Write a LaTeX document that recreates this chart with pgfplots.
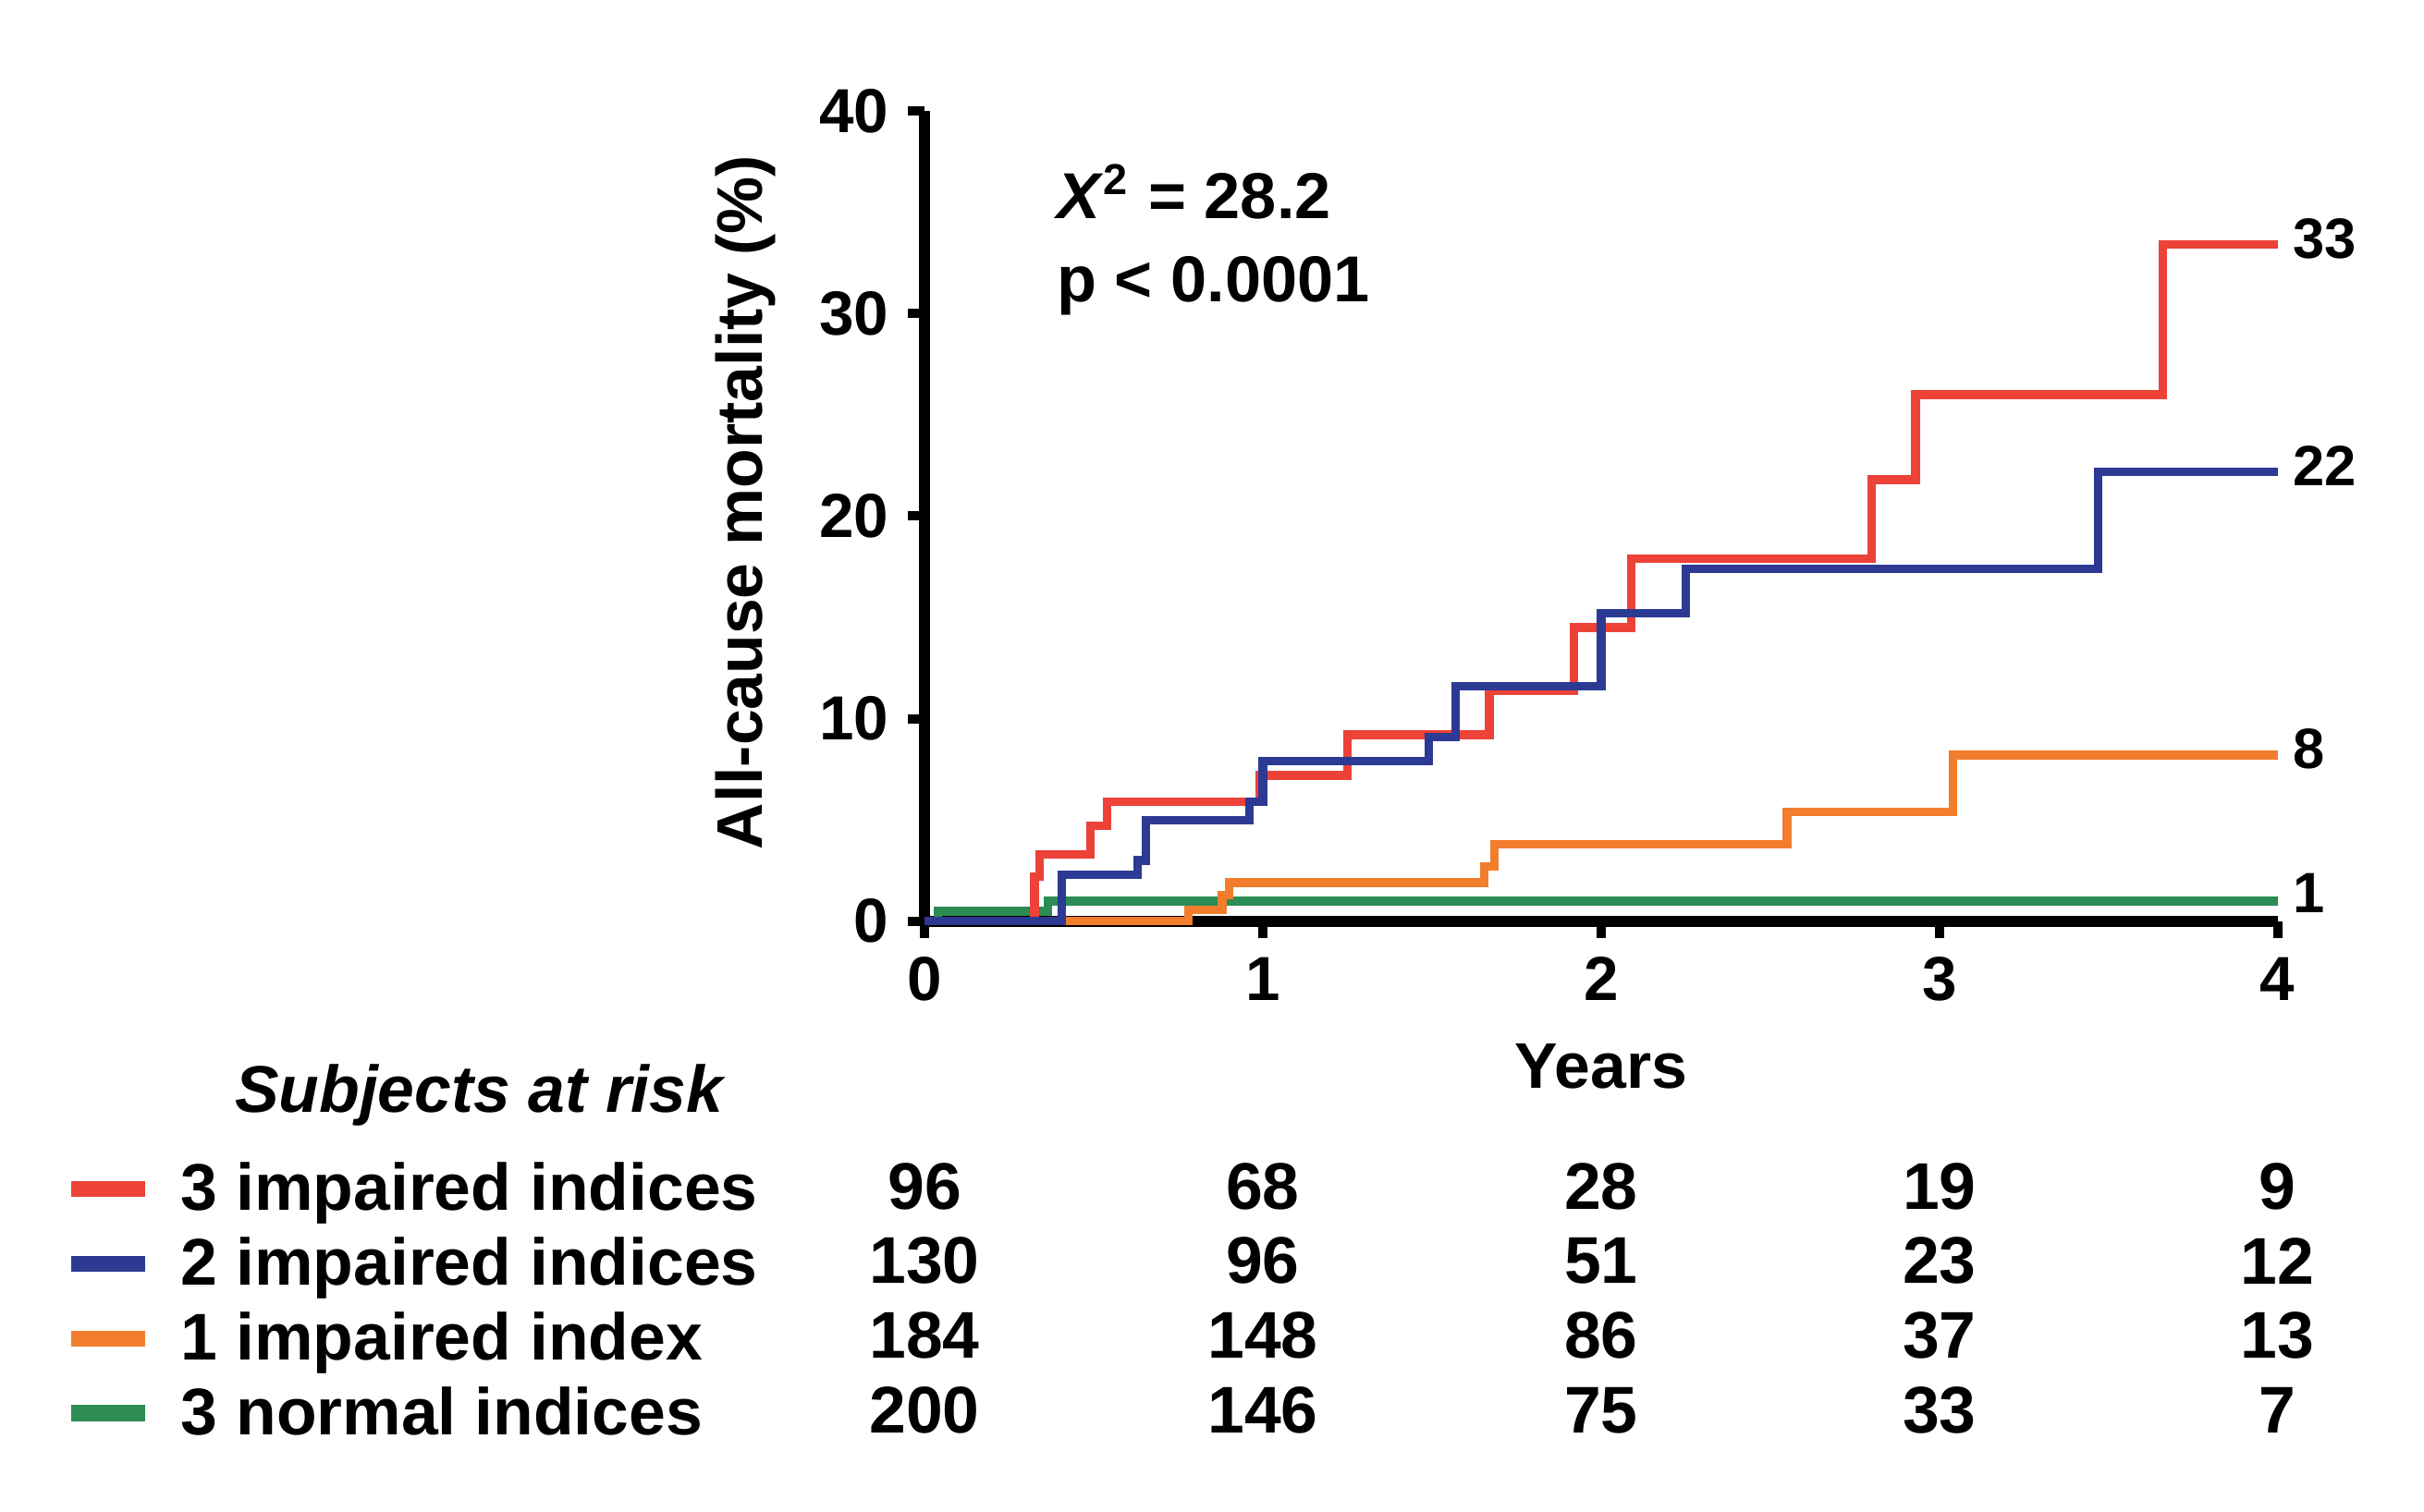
\documentclass[border=0pt]{standalone}
\usepackage{fontspec}
\setmainfont{Liberation Sans}
\usepackage{pgfplots}
\pgfplotsset{compat=1.18}
\usepackage{pgfplotstable}

\definecolor{kmred}{RGB}{236,66,56}
\definecolor{kmblue}{RGB}{44,58,148}
\definecolor{kmorange}{RGB}{242,125,44}
\definecolor{kmgreen}{RGB}{44,140,84}

% subjects at risk, one column per group
\pgfplotstableread{
t  n3  n2  n1  n0
0  96  130 184 200
1  68  96  148 146
2  28  51  86  75
3  19  23  37  33
4  9   12  13  7
}\atrisk

\begin{document}
\begin{tikzpicture}
\path[use as bounding box] (-60mm,-38.3mm) rectangle (97.3mm,59.8mm);
\begin{axis}[
  at={(0,0)}, anchor=south west,
  scale only axis, width=87.8mm, height=52.6mm,
  xmin=0, xmax=4, ymin=0, ymax=40,
  axis lines=left, axis line style={-, line width=2pt},
  xtick={0,1,2,3,4}, ytick={0,10,20,30,40},
  tick align=outside, major tick length=1.1mm,
  tick style={line width=1.7pt, black},
  tick label style={font=\fontsize{11.5}{13}\selectfont\bfseries},
  /pgf/number format/assume math mode=true,
  xlabel={Years}, ylabel={All-cause mortality (\%)},
  every axis x label/.style={at={(axis description cs:0.5,-0.179)},anchor=center,
    font=\fontsize{11.9}{14}\selectfont\bfseries},
  every axis y label/.style={at={(axis description cs:-0.132,0.517)},rotate=90,anchor=center,
    font=\fontsize{11.9}{14}\selectfont\bfseries},
  clip=false,
  legend style={at={(axis description cs:-0.6375,-0.2908)}, anchor=north west,
    draw=none, fill=none, inner sep=0pt, row sep=0pt,
    font=\fontsize{12.2}{14}\selectfont\bfseries,
    nodes={inner sep=0pt, text height=3.4mm, text depth=1.45mm},
    /tikz/every odd column/.append style={column sep=1.8mm}},
  legend cell align=left,
  legend image code/.code={\draw[#1, line width=3pt] (0mm,0.4mm) -- (4.8mm,0.4mm);},
]
\addlegendimage{kmred}
\addlegendentry{3 impaired indices}
\addlegendimage{kmblue}
\addlegendentry{2 impaired indices}
\addlegendimage{kmorange}
\addlegendentry{1 impaired index}
\addlegendimage{kmgreen}
\addlegendentry{3 normal indices}

% Kaplan-Meier curves
\addplot[const plot, kmgreen, line width=1.6pt, forget plot] coordinates {
  (0,0) (0.04,0.5) (0.365,1.0) (4,1.0)};
\addplot[const plot, kmorange, line width=1.6pt, forget plot] coordinates {
  (0,0) (0.78,0.55) (0.88,1.3) (0.90,1.9) (1.655,2.7) (1.685,3.8) (2.55,5.4) (3.04,8.2) (4,8.2)};
\addplot[const plot, kmred, line width=1.6pt, forget plot] coordinates {
  (0,0) (0.325,2.2) (0.34,3.3) (0.49,4.7) (0.54,5.9) (0.99,7.2) (1.25,9.2) (1.67,11.4)
  (1.92,14.5) (2.09,17.9) (2.80,21.8) (2.93,26.0) (3.66,33.4) (4,33.4)};
\addplot[const plot, kmblue, line width=1.6pt, forget plot] coordinates {
  (0,0) (0.405,2.3) (0.63,3.0) (0.655,5.0) (0.96,5.9) (1.0,7.9) (1.49,9.1) (1.57,11.6)
  (2.0,15.2) (2.25,17.4) (3.47,22.2) (4,22.2)};

% end values
\node[anchor=west, font=\fontsize{10.5}{12}\selectfont\bfseries] at (axis cs:3.99,33.7) {33};
\node[anchor=west, font=\fontsize{10.5}{12}\selectfont\bfseries] at (axis cs:3.99,22.5) {22};
\node[anchor=west, font=\fontsize{10.5}{12}\selectfont\bfseries] at (axis cs:3.99,8.5) {8};
\node[anchor=west, font=\fontsize{10.5}{12}\selectfont\bfseries] at (axis cs:3.99,1.4) {1};

\node[anchor=base west, font=\fontsize{12}{14}\selectfont\bfseries] at (axis cs:0.335,34.7) {\textit{X}\textsuperscript{2} = 28.2};
\node[anchor=base west, font=\fontsize{12}{14}\selectfont\bfseries] at (axis cs:0.335,30.6) {p < 0.0001};

% subjects at risk table
\node[anchor=base, font=\fontsize{12.2}{14}\selectfont\bfseries\itshape] at (axis cs:-1.317,-9.45) {Subjects at risk};
\pgfplotsset{atrisk/.style={draw=none, forget plot, nodes near coords, point meta=explicit symbolic,
  nodes near coords style={anchor=center, inner sep=0pt, font=\fontsize{12.2}{14}\selectfont\bfseries}}}
\addplot[atrisk] table[x=t, y expr=-13.08, meta=n3] {\atrisk};
\addplot[atrisk] table[x=t, y expr=-16.77, meta=n2] {\atrisk};
\addplot[atrisk] table[x=t, y expr=-20.46, meta=n1] {\atrisk};
\addplot[atrisk] table[x=t, y expr=-24.14, meta=n0] {\atrisk};
\end{axis}
\end{tikzpicture}
\end{document}
